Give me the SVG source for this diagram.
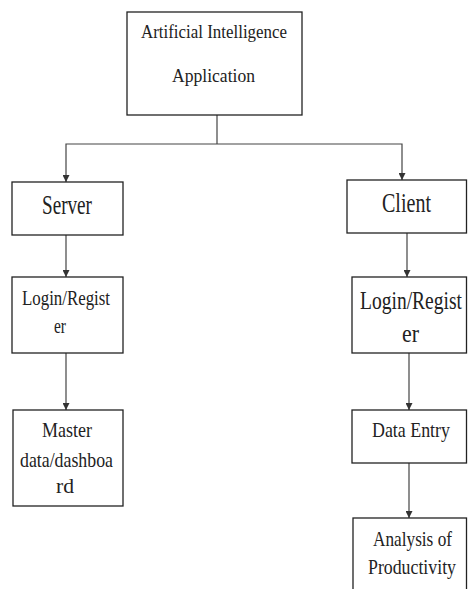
<svg xmlns="http://www.w3.org/2000/svg" width="468" height="589" viewBox="0 0 468 589">
<defs>
<marker id="ah" viewBox="0 0 8 8" refX="8" refY="4" markerWidth="7" markerHeight="7" markerUnits="userSpaceOnUse" orient="auto">
<path d="M0,0 L8,4 L0,8 Z" fill="#333"/>
</marker>
</defs>
<style>
.box{fill:#fff;stroke:#222;stroke-width:1.3}
.t{font-family:"Liberation Serif","Times New Roman",serif;fill:#222}
.c{fill:none;stroke:#444;stroke-width:1.2}
.a{marker-end:url(#ah)}
</style>
<rect width="468" height="589" fill="#fff"/>
<g id="connectors">
<path class="c" d="M217,115 V144"/>
<path class="c a" d="M217,144 H66 V182"/>
<path class="c a" d="M217,144 H402 V180"/>
<path class="c a" d="M66,235 V277"/>
<path class="c a" d="M66,353 V410"/>
<path class="c a" d="M407,233 V277"/>
<path class="c a" d="M409,353 V410"/>
<path class="c a" d="M409,463 V518"/>
</g>
<g id="ai-app">
<rect class="box" x="127" y="12" width="175" height="103"/>
<text class="t" x="141" y="38" font-size="19" textLength="146" lengthAdjust="spacingAndGlyphs">Artificial Intelligence</text>
<text class="t" x="172" y="82" font-size="19" textLength="83" lengthAdjust="spacingAndGlyphs">Application</text>
</g>
<g id="server">
<rect class="box" x="12" y="182" width="111" height="53"/>
<text class="t" x="42" y="214" font-size="27" textLength="50" lengthAdjust="spacingAndGlyphs">Server</text>
</g>
<g id="client">
<rect class="box" x="347" y="180" width="119.5" height="53"/>
<text class="t" x="382" y="212" font-size="27" textLength="49" lengthAdjust="spacingAndGlyphs">Client</text>
</g>
<g id="login-server">
<rect class="box" x="12" y="277" width="111" height="76"/>
<text class="t" x="22" y="305" font-size="21" textLength="88" lengthAdjust="spacingAndGlyphs">Login/Regist</text>
<text class="t" x="54" y="333" font-size="21" textLength="12" lengthAdjust="spacingAndGlyphs">er</text>
</g>
<g id="login-client">
<rect class="box" x="352" y="277" width="114.5" height="76"/>
<text class="t" x="360" y="309" font-size="25" textLength="102" lengthAdjust="spacingAndGlyphs">Login/Regist</text>
<text class="t" x="402" y="342" font-size="25" textLength="17" lengthAdjust="spacingAndGlyphs">er</text>
</g>
<g id="master">
<rect class="box" x="13" y="410" width="110" height="96"/>
<text class="t" x="42" y="437" font-size="22" textLength="50" lengthAdjust="spacingAndGlyphs">Master</text>
<text class="t" x="20" y="467" font-size="22" textLength="93" lengthAdjust="spacingAndGlyphs">data/dashboa</text>
<text class="t" x="56" y="493" font-size="22" textLength="18" lengthAdjust="spacingAndGlyphs">rd</text>
</g>
<g id="data-entry">
<rect class="box" x="352" y="410" width="114.5" height="53"/>
<text class="t" x="372" y="437" font-size="22" textLength="78" lengthAdjust="spacingAndGlyphs">Data Entry</text>
</g>
<g id="analysis">
<rect class="box" x="353" y="518" width="113.5" height="80"/>
<text class="t" x="373" y="546" font-size="22" textLength="79" lengthAdjust="spacingAndGlyphs">Analysis of</text>
<text class="t" x="368" y="574" font-size="22" textLength="88" lengthAdjust="spacingAndGlyphs">Productivity</text>
</g>
</svg>
